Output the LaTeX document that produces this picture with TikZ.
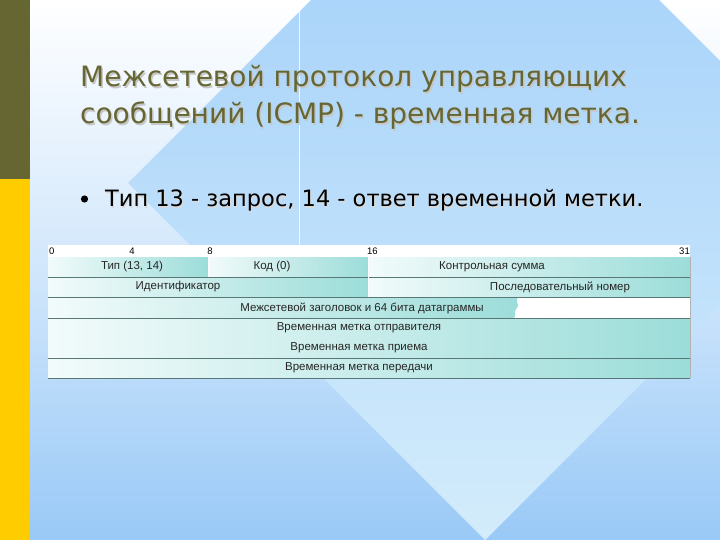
\documentclass[tikz,border=0pt]{standalone}
\usepackage{fontspec}
\setmainfont{DejaVu Sans}
\newfontfamily\titlefont{DejaVu Sans}
\newfontfamily\tabfont{Liberation Sans}
\definecolor{olive}{HTML}{666633}
\definecolor{gold}{HTML}{FFCC00}
\definecolor{bgtop}{HTML}{FFFFFF}
\definecolor{bgbot}{HTML}{99C9F7}
\definecolor{dtop}{HTML}{9ECDFA}
\definecolor{dbot}{HTML}{D3ECFB}
\definecolor{cl}{HTML}{F2FBFB}
\definecolor{cr}{HTML}{9CDDD9}
\definecolor{rule}{HTML}{587878}
\definecolor{tabtext}{HTML}{262626}
\tikzset{
  cellbox/.style={shade, left color=cl, right color=cr, inner sep=0pt, outer sep=0pt, anchor=north west},
  celltext/.style={font=\tabfont\fontsize{11.5}{13}\selectfont, text=tabtext, inner sep=0pt, anchor=center},
  numtext/.style={font=\tabfont\fontsize{9.5}{10}\selectfont, text=black, inner sep=0pt},
  rowrule/.style={draw=rule, line width=0.9pt},
  titletext/.style={font=\titlefont\fontsize{28}{37}\selectfont, anchor=base west, inner sep=0pt},
  bullettext/.style={font=\titlefont\fontsize{22.5}{26}\selectfont, anchor=base west, inner sep=0pt}
}
\begin{document}
\begin{tikzpicture}[x=1pt,y=-1pt]
\useasboundingbox (0,0) rectangle (720,540);
% background
\shade[top color=bgtop, bottom color=bgbot, middle color=bgtop!55!bgbot] (0,0) rectangle (720,540);
\begin{scope}
\clip (0,0) rectangle (720,540);
\shade[top color=dtop, bottom color=dbot] (128,183) -- (485,-174) -- (842,183) -- (485,540) -- cycle;
\end{scope}
\draw[white, line width=0.8pt, opacity=0.8] (299,0) -- (299,245);
% left bar
\fill[olive] (0,0) rectangle (30,179);
\fill[gold] (0,179) rectangle (30,540);
% title
\node[titletext, text=black!22] (titleshadowa) at (81.5,88.5) {Межсетевой протокол управляющих};
\node[titletext, text=black!22] (titleshadowb) at (81.5,125.5) {сообщений (ICMP) - временная метка.};
\node[titletext, text=olive] (titlea) at (80,87) {Межсетевой протокол управляющих};
\node[titletext, text=olive] (titleb) at (80,124) {сообщений (ICMP) - временная метка.};
% bullet
\node[bullettext, text=black!15] (bulletshadow) at (106,208) {Тип 13 - запрос, 14 - ответ временной метки.};
\node[bullettext, text=black] (bullet) at (105,207) {Тип 13 - запрос, 14 - ответ временной метки.};
\fill[black] (84.5,199) circle (3.6);
% table header
\fill[white] (48,245) rectangle (690,257);
\node[numtext, anchor=west] (n0) at (49,251) {0};
\node[numtext] (n4) at (132,251) {4};
\node[numtext] (n8) at (210,251) {8};
\node[numtext, anchor=west] (n16) at (367,251) {16};
\node[numtext, anchor=east] (n31) at (690,251) {31};
% row 1
\node[cellbox, minimum width=160, minimum height=20] (typ) at (48,257) {};
\node[cellbox, minimum width=160, minimum height=20] (kod) at (208,257) {};
\node[cellbox, minimum width=322, minimum height=20] (sum) at (368,257) {};
\node[celltext] (typt) at (132,267) {Тип (13, 14)};
\node[celltext] (kodt) at (272,267) {Код (0)};
\node[celltext] (sumt) at (492,267) {Контрольная сумма};
% row 2
\node[cellbox, minimum width=320, minimum height=20] (id) at (48,277) {};
\node[cellbox, minimum width=322, minimum height=20] (seq) at (368,277) {};
\node[celltext] (idt) at (178,287) {Идентификатор};
\node[celltext] (seqt) at (560,287) {Последовательный номер};
% row 3
\fill[white] (500,297) rectangle (690,318);
\shade[left color=cl, right color=cr] (48,297) -- (519,297) .. controls (513,301) and (521,305) .. (517,308) .. controls (513,311) and (517,315) .. (514,318) -- (48,318) -- cycle;
\node[celltext] (hdrt) at (362,308) {Межсетевой заголовок и 64 бита датаграммы};
% rows 4-5
\node[cellbox, minimum width=642, minimum height=40] (ts) at (48,318) {};
\node[celltext] (tst) at (359,328) {Временная метка отправителя};
\node[celltext] (trt) at (359,348) {Временная метка приема};
% row 6
\node[cellbox, minimum width=642, minimum height=20] (tt) at (48,358) {};
\node[celltext] (ttt) at (359,368) {Временная метка передачи};
% rules
\draw[rowrule] (id.north west) -- (seq.north east);
\draw[rowrule] (id.south west) -- (seq.south east);
\draw[rowrule] (ts.north west) -- (ts.north east);
\draw[rowrule] (tt.north west) -- (tt.north east);
\draw[rowrule] (tt.south west) -- (tt.south east);
\draw[white, line width=0.8pt] (kod.north west) -- (kod.south west);
\draw[white, line width=0.8pt] (sum.north west) -- (seq.south west);
\draw[black!30, line width=0.6pt] (sum.north east) -- (tt.south east);
\end{tikzpicture}
\end{document}
